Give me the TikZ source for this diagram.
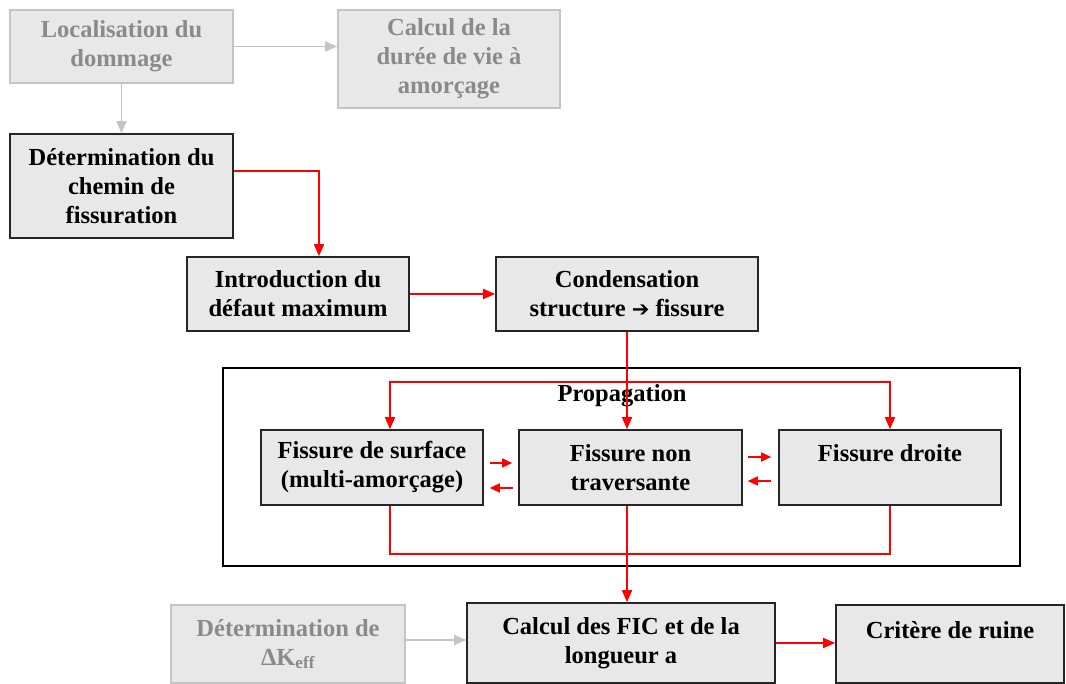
\documentclass[tikz,border=0pt]{standalone}
\usepackage{fontspec}
\setmainfont{Liberation Serif}
\newfontfamily\symfont{DejaVu Sans}
\usepackage{xcolor}
\usepackage{tikz}
\usetikzlibrary{arrows.meta,positioning,calc}
\definecolor{cFill}{HTML}{E8E8E8}
\definecolor{cLine}{HTML}{C4C4C4}
\definecolor{cFade}{HTML}{8A8A8A}
\definecolor{cEdge}{HTML}{262626}
\definecolor{cRed}{HTML}{FF0000}
\tikzset{
  stepbox/.style={draw=cEdge,fill=cFill,line width=1.6pt,align=center,font=\bfseries\fontsize{24.5}{29}\selectfont,inner sep=0pt,text=black},
  fadebox/.style={stepbox,draw=cLine,text=cFade},
  frame/.style={draw=black,line width=1.6pt,fill=white,inner sep=0pt},
  rarr/.style={-{Triangle[length=12pt,width=10pt]},line width=1.5pt,color=cRed},
  sarr/.style={-{Triangle[length=10pt,width=9pt]},line width=1.5pt,color=cRed},
  rline/.style={line width=1.5pt,color=cRed},
  garr/.style={-{Triangle[length=12pt,width=10pt]},line width=1.5pt,color=cLine},
}

\begin{document}
\begin{tikzpicture}[x=1pt,y=-1pt]
  \useasboundingbox (0,0) rectangle (1066,684);
  % upper chain
  \node[fadebox,minimum width=223,minimum height=73] (loc) at (121.5,46.5) {Localisation du\\dommage};
  \node[fadebox,minimum width=222,minimum height=98] (calc) at (449,59) {Calcul de la\\durée de vie à\\amorçage};
  \node[stepbox,minimum width=223,minimum height=104] (chem) at (121.5,186) {Détermination du\\chemin de\\fissuration};
  \node[stepbox,minimum width=222,minimum height=74] (intro) at (298,294) {Introduction du\\défaut maximum};
  \node[stepbox,minimum width=262,minimum height=74] (cond) at (627,294) {Condensation\\structure {\symfont\fontsize{21}{29}\selectfont ➔} fissure};

  % propagation block
  \node[frame,minimum width=797,minimum height=198] (prop) at (621.5,467) {};
  \node[font=\bfseries\fontsize{24.5}{29}\selectfont,inner sep=0pt] (proplbl) at (622,396) {Propagation};
  \node[stepbox,minimum width=222,minimum height=75] (surf) at (372,467.5) {Fissure de surface\\(multi-amorçage)};
  \node[stepbox,minimum width=223,minimum height=75] (ntrav) at (630.5,467.5) {Fissure non\\traversante};
  \node[stepbox,minimum width=222,minimum height=75] (droite) at (890,467.5) {Fissure droite\\\mbox{}};

  % lower chain
  \node[fadebox,minimum width=234,minimum height=78] (dk) at (288,644) {Détermination de\\ΔK\textsubscript{eff}};
  \node[stepbox,minimum width=308,minimum height=80] (fic) at (621,643) {Calcul des FIC et de la\\longueur a};
  \node[stepbox,minimum width=228,minimum height=78] (ruine) at (950,644) {Critère de ruine\\\mbox{}};

  % connectors
  \draw[garr] (loc) -- (loc -| calc.west);
  \draw[garr] (loc) -- (chem);
  \draw[rarr] ([yshift=15]chem.east) -| ([xshift=21]intro.north);
  \draw[rarr] (intro) -- (cond);
  \coordinate (split) at ($(cond.south)+(0,50)$);
  \draw[rarr] (cond.south) -- (cond.south |- ntrav.north);
  \draw[rarr] (split) -| ([xshift=18]surf.north);
  \draw[rarr] (split) -| (droite.north);
  \draw[rline] ([xshift=18]surf.south) -- ++(0,48) -| (droite.south);
  \draw[rarr] (cond.south |- ntrav.south) -- (cond.south |- fic.north);
  \draw[sarr] ([xshift=6,yshift=4.5]surf.east) -- ([xshift=-6,yshift=4.5]ntrav.west);
  \draw[sarr] ([xshift=-5,yshift=-20.5]ntrav.west) -- ([xshift=6,yshift=-20.5]surf.east);
  \draw[sarr] ([xshift=5,yshift=10.5]ntrav.east) -- ([xshift=-7,yshift=10.5]droite.west);
  \draw[sarr] ([xshift=-7,yshift=-13.5]droite.west) -- ([xshift=5,yshift=-13.5]ntrav.east);
  \draw[garr] ([yshift=4]dk.east) -- ([yshift=4]dk.east -| fic.west);
  \draw[rarr] (fic) -- (fic -| ruine.west);
\end{tikzpicture}
\end{document}
